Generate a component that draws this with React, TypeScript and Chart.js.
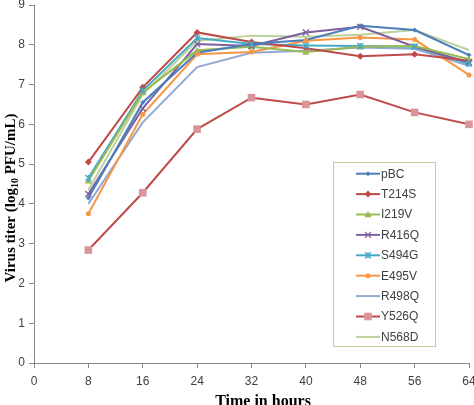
import React, { useEffect, useRef } from 'react';
import { Chart, registerables } from 'chart.js';

Chart.register(...registerables);

const hours = [8, 16, 24, 32, 40, 48, 56, 64];
const xTicks = [0, 8, 16, 24, 32, 40, 48, 56, 64];
const yTicks = [0, 1, 2, 3, 4, 5, 6, 7, 8, 9];

const pBC = [4.15, 6.55, 7.8, 8.02, 8.12, 8.48, 8.37, 7.74];
const T214S = [5.05, 6.93, 8.31, 8.07, 7.91, 7.71, 7.76, 7.6];
const I219V = [4.58, 6.8, 7.86, 7.95, 7.82, 7.95, 7.97, 7.64];
const R416Q = [4.25, 6.4, 8.02, 7.97, 8.31, 8.45, 7.95, 7.56];
const S494G = [4.65, 6.85, 8.17, 8.02, 7.98, 7.97, 7.95, 7.52];
const E495V = [3.75, 6.25, 7.76, 7.82, 8.1, 8.18, 8.13, 7.24];
const R498Q = [4.0, 6.05, 7.44, 7.8, 7.85, 7.93, 7.9, 7.47];
const Y526Q = [2.84, 4.28, 5.88, 6.67, 6.5, 6.75, 6.3, 6.0];
const N568D = [4.35, 6.75, 8.1, 8.23, 8.2, 8.25, 8.37, 7.87];

const seriesNames = ['pBC', 'T214S', 'I219V', 'R416Q', 'S494G', 'E495V', 'R498Q', 'Y526Q', 'N568D'];
const seriesValues = [pBC, T214S, I219V, R416Q, S494G, E495V, R498Q, Y526Q, N568D];
const lineColors = ['#4A7EBB', '#BE4B48', '#98B954', '#7D60A0', '#46AAC5', '#F79646', '#93A9D4', '#BE4B48', '#BDD19A'];
const markerColors = ['#4A7EBB', '#BE4B48', '#98B954', '#7D60A0', '#46AAC5', '#F79646', '#93A9D4', '#D9959A', '#BDD19A'];
const markerStyles = ['rectRot', 'rectRot', 'triangle', 'crossRot', 'star', 'circle', 'none', 'rect', 'none'];
const markerSizes = [2.5, 3.5, 3.5, 3, 3, 2.5, 0, 3.8, 0];

function drawMarker(ctx: CanvasRenderingContext2D, style: string, x: number, y: number, r: number, color: string) {
  if (style === 'none' || r <= 0) return;
  ctx.save();
  ctx.fillStyle = color;
  ctx.strokeStyle = color;
  ctx.lineWidth = 1.3;
  ctx.beginPath();
  if (style === 'rectRot') {
    ctx.moveTo(x, y - r); ctx.lineTo(x + r, y); ctx.lineTo(x, y + r); ctx.lineTo(x - r, y); ctx.closePath(); ctx.fill();
  } else if (style === 'triangle') {
    ctx.moveTo(x, y - r); ctx.lineTo(x + r, y + r * 0.8); ctx.lineTo(x - r, y + r * 0.8); ctx.closePath(); ctx.fill();
  } else if (style === 'crossRot') {
    ctx.moveTo(x - r, y - r); ctx.lineTo(x + r, y + r); ctx.moveTo(x + r, y - r); ctx.lineTo(x - r, y + r); ctx.stroke();
  } else if (style === 'star') {
    ctx.moveTo(x - r, y - r); ctx.lineTo(x + r, y + r); ctx.moveTo(x + r, y - r); ctx.lineTo(x - r, y + r);
    ctx.moveTo(x, y - r); ctx.lineTo(x, y + r); ctx.stroke();
  } else if (style === 'circle') {
    ctx.arc(x, y, r, 0, Math.PI * 2); ctx.fill();
  } else if (style === 'rect') {
    ctx.rect(x - r, y - r, 2 * r, 2 * r); ctx.fill();
  }
  ctx.restore();
}

const overlayPlugin = {
  id: 'overlay',
  afterDatasetsDraw(chart: any) {
    const ctx: CanvasRenderingContext2D = chart.ctx;
    const ds = chart.data.datasets;
    ds.forEach((d: any, i: number) => {
      const meta = chart.getDatasetMeta(i);
      meta.data.forEach((pt: any) => drawMarker(ctx, markerStyles[i], pt.x, pt.y, markerSizes[i], markerColors[i]));
    });
  },
  afterDraw(chart: any) {
    const ctx: CanvasRenderingContext2D = chart.ctx;
    ctx.save();
    const bx = 333.5, by = 162.5, bw = 102, bh = 184;
    ctx.fillStyle = '#FFFFFF';
    ctx.fillRect(bx, by, bw, bh);
    ctx.strokeStyle = '#C4CC9E';
    ctx.lineWidth = 1;
    ctx.strokeRect(bx, by, bw, bh);
    ctx.font = '12px "Liberation Sans", Arial, sans-serif';
    ctx.textBaseline = 'middle';
    ctx.textAlign = 'left';
    seriesNames.forEach((name, i) => {
      const y = 173.7 + i * 20.4;
      ctx.strokeStyle = lineColors[i];
      ctx.lineWidth = 2;
      ctx.beginPath();
      ctx.moveTo(356, y);
      ctx.lineTo(380, y);
      ctx.stroke();
      drawMarker(ctx, markerStyles[i], 368, y, markerSizes[i], markerColors[i]);
      ctx.fillStyle = '#404040';
      ctx.fillText(name, 381, y + 0.5);
    });
    ctx.fillStyle = '#000000';
    ctx.font = 'bold 16px "Liberation Serif", "Times New Roman", serif';
    ctx.textAlign = 'center';
    ctx.textBaseline = 'alphabetic';
    ctx.fillText('Time in hours', 263, 406);
    ctx.save();
    ctx.translate(15, 198);
    ctx.rotate(-Math.PI / 2);
    const mainFont = 'bold 15px "Liberation Serif", "Times New Roman", serif';
    const subFont = 'bold 10px "Liberation Serif", "Times New Roman", serif';
    const p1 = 'Virus titer (log';
    const p2 = '10';
    const p3 = ' PFU/mL)';
    ctx.font = mainFont;
    const w1 = ctx.measureText(p1).width;
    const w3 = ctx.measureText(p3).width;
    ctx.font = subFont;
    const w2 = ctx.measureText(p2).width;
    const total = w1 + w2 + w3;
    let x = -total / 2;
    ctx.textAlign = 'left';
    ctx.font = mainFont;
    ctx.fillText(p1, x, 0);
    x += w1;
    ctx.font = subFont;
    ctx.fillText(p2, x, 3);
    x += w2;
    ctx.font = mainFont;
    ctx.fillText(p3, x, 0);
    ctx.restore();
    ctx.restore();
  },
};

export default function App() {
  const ref = useRef<HTMLCanvasElement | null>(null);
  useEffect(() => {
    if (!ref.current) return;
    const datasets = seriesNames.map((name, i) => ({
      label: name,
      data: hours.map((h, j) => ({ x: h, y: seriesValues[i][j] })),
      borderColor: lineColors[i],
      backgroundColor: lineColors[i],
      borderWidth: 2,
      pointRadius: 0,
      pointHoverRadius: 0,
      tension: 0,
      fill: false,
    }));
    const tickFont = { family: '"Liberation Sans", Arial, sans-serif', size: 12 };
    const chart = new Chart(ref.current, {
      type: 'line',
      data: { datasets },
      options: {
        animation: false,
        responsive: true,
        maintainAspectRatio: false,
        layout: { padding: { top: 5, right: 5, left: 0, bottom: 0 } },
        plugins: { legend: { display: false }, tooltip: { enabled: false } },
        scales: {
          x: {
            type: 'linear',
            min: 0,
            max: 64,
            afterBuildTicks: (s: any) => { s.ticks = xTicks.map((v) => ({ value: v })); },
            ticks: { font: tickFont, color: '#404040', padding: 6, maxRotation: 0, autoSkip: false },
            grid: { drawOnChartArea: false, drawTicks: true, tickLength: 5, color: '#868686' },
            border: { color: '#868686', width: 1 },
            afterFit: (s: any) => { s.height = 42; s.paddingLeft = 0; s.paddingRight = 0; },
          },
          y: {
            type: 'linear',
            min: 0,
            max: 9,
            afterBuildTicks: (s: any) => { s.ticks = yTicks.map((v) => ({ value: v })); },
            ticks: { font: tickFont, color: '#404040', padding: 4 },
            grid: { drawOnChartArea: false, drawTicks: true, tickLength: 5, color: '#868686' },
            border: { color: '#868686', width: 1 },
            afterFit: (s: any) => { s.width = 34; s.paddingTop = 0; s.paddingBottom = 0; },
          },
        },
      },
      plugins: [overlayPlugin],
    } as any);
    return () => chart.destroy();
  }, []);
  return (
    <div style={{ position: 'absolute', left: 0, top: 0, width: 474, height: 405, background: '#fff' }}>
      <canvas ref={ref} />
    </div>
  );
}
